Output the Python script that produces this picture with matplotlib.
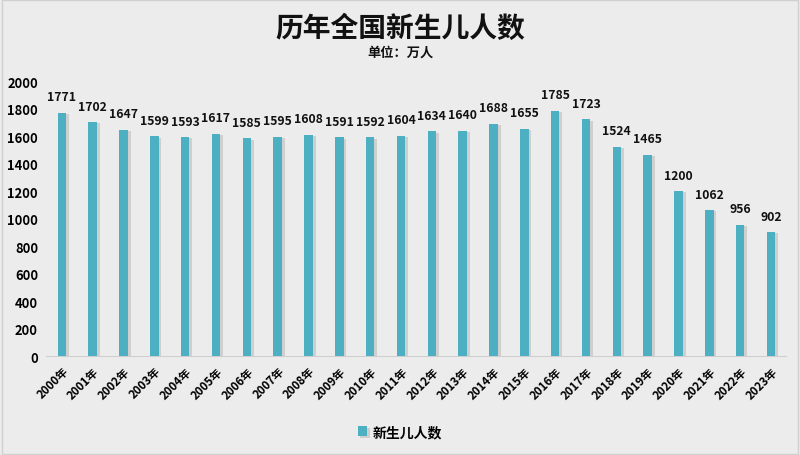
import numpy as np
import matplotlib.pyplot as plt
import matplotlib.patheffects as pe

plt.rcParams['font.family'] = ['Noto Sans CJK SC', 'DejaVu Sans']

# data
years = [f'{y}年' for y in range(2000, 2024)]
births = [1771, 1702, 1647, 1599, 1593, 1617, 1585, 1595, 1608, 1591, 1592, 1604,
          1634, 1640, 1688, 1655, 1785, 1723, 1524, 1465, 1200, 1062, 956, 902]
series_name = '新生儿人数'

fig = plt.figure(figsize=(8, 4.56), dpi=100, facecolor='#ececec')
ax = fig.add_axes([0.058, 0.217, 0.925, 0.603])
ax.set_facecolor('#ececec')

x = np.arange(len(years))
bars = ax.bar(x, births, width=0.28, color='#4cafc2', zorder=3,
              label=series_name)
for b in bars:
    b.set_path_effects([pe.SimplePatchShadow(offset=(2, -1), shadow_rgbFace='#9a9a9a', alpha=0.35),
                        pe.Normal()])

for xi, v in zip(x, births):
    ax.annotate(str(v), (xi, v), xytext=(0, 9), textcoords='offset points',
                ha='center', va='baseline', fontsize=8.8, fontweight='bold',
                color='#111111')

ax.set_xlim(-0.5, len(years) - 0.5)
ax.set_ylim(0, 2000)
ax.set_yticks(range(0, 2001, 200))
ax.tick_params(axis='y', length=0, pad=6, labelsize=9.3)
for t in ax.get_yticklabels():
    t.set_fontweight('bold')
ax.set_xticks(x)
ax.set_xticklabels(years, rotation=45, ha='right', rotation_mode='anchor',
                   fontsize=8.3, fontweight='bold')
ax.tick_params(axis='x', length=0, pad=6)

for s in ['top', 'right', 'left']:
    ax.spines[s].set_visible(False)
ax.spines['bottom'].set_color('#cfcfcf')

fig.text(0.5, 0.937, '历年全国新生儿人数', ha='center', va='center',
         fontsize=20, fontweight='bold', color='#111111')
fig.text(0.5, 0.885, '单位：万人', ha='center', va='center',
         fontsize=9.5, fontweight='bold', color='#111111')

leg = fig.legend(handles=[bars], labels=[series_name], loc='center',
                 bbox_to_anchor=(0.5, 0.05), frameon=False, handlelength=0.7,
                 handleheight=0.7, handletextpad=0.4,
                 prop={'weight': 'bold', 'size': 10})

fig.patches.append(plt.Rectangle((0.002, 0.002), 0.996, 0.996, transform=fig.transFigure,
                                 fill=False, edgecolor='#d0d0d0', linewidth=1))

fig.savefig('out.png', dpi=100, facecolor=fig.get_facecolor())
